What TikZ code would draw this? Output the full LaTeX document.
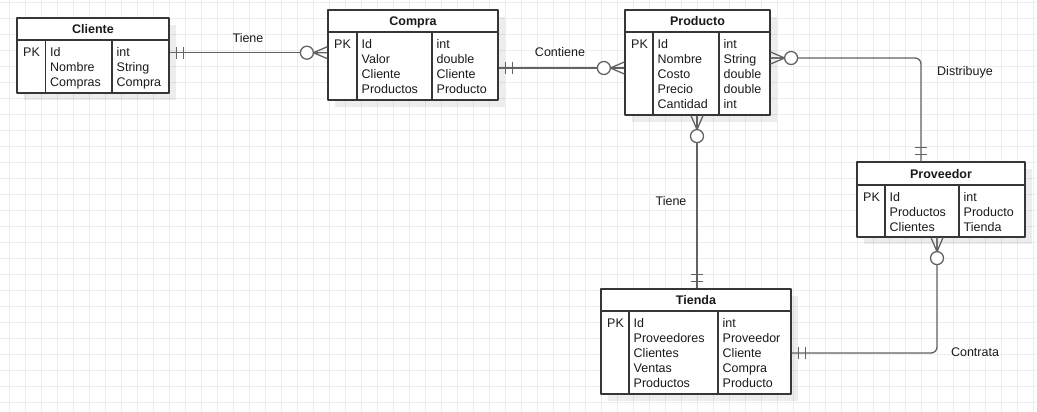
\documentclass[tikz,border=0pt]{standalone}
\usepackage{fontspec}
\setmainfont{Liberation Sans}
\definecolor{gridc}{HTML}{EDEDED}
\definecolor{boxc}{HTML}{363636}
\definecolor{linec}{HTML}{626262}
\definecolor{txtc}{HTML}{1A1A1A}
\newcommand\flds[1]{\begin{tabular}[t]{@{}l@{}}#1\end{tabular}}
% entity: name, L, T, R, B, H, D1, D2, title
\newcommand\entbox[9]{%
  \fill[black, opacity=0.07] (#2+7,#3+7) rectangle (#4+7,#5+7);
  \node[ent, minimum width={#4-#2}, minimum height={#5-#3}] (#1) at ({(#2+#4)/2},{(#3+#5)/2}) {};
  \draw[boxline] (#2,#6) -- (#4,#6);
  \draw[boxline] (#7,#6) -- (#7,#5);
  \draw[boxline] (#8,#6) -- (#8,#5);
  \node[hdr] (#1-title) at ({(#2+#4)/2},{(#3+#6)/2+4.6}) {#9};
}
\newcommand\zmany[2]{\begin{scope}[shift={#1}, rotate=#2]
  \draw[rel] (0,-6) -- (14,0) -- (0,6) (0,0) -- (14,0);
  \draw[rel, fill=white] (20.5,0) circle[radius=6.5];
\end{scope}}
\newcommand\mone[2]{\begin{scope}[shift={#1}, rotate=#2]
  \draw[rel] (7,-6) -- (7,6) (14,-6) -- (14,6);
\end{scope}}
\begin{document}
\begin{tikzpicture}[x=1pt, y=-1pt, line join=round,
  every node/.style={font=\fontsize{12.5}{15}\selectfont, text=txtc},
  ent/.style={draw=boxc, line width=1.2pt, inner sep=0pt, fill=white},
  boxline/.style={draw=boxc, line width=1.2pt},
  rel/.style={draw=linec, line width=1.3pt},
  hdr/.style={font=\fontsize{12.5}{15}\selectfont\bfseries, anchor=base, inner sep=0pt},
  fld/.style={anchor=base west, inner sep=0pt},
  lbl/.style={anchor=base, inner sep=0pt}]
\useasboundingbox (0,0) rectangle (1037,412);
\fill[white] (0,0) rectangle (1037,412);
\foreach \gx in {9,25,...,1033} \draw[gridc, line width=0.9pt] (\gx,0) -- (\gx,412);
\foreach \gy in {2,18,...,410} \draw[gridc, line width=0.9pt] (0,\gy) -- (1037,\gy);

% entities
\entbox{cliente}{17}{18}{169}{93}{40}{45.5}{112}{Cliente}
\node[fld] (cliente-pk) at (23,56.3) {PK};
\node[fld] (cliente-f) at (50,56.3) {\flds{Id\\Nombre\\Compras}};
\node[fld] (cliente-t) at (116.5,56.3) {\flds{int\\String\\Compra}};

\entbox{compra}{328}{10}{498}{100}{32}{357}{432}{Compra}
\node[fld] (compra-pk) at (334,48.3) {PK};
\node[fld] (compra-f) at (361.5,48.3) {\flds{Id\\Valor\\Cliente\\Productos}};
\node[fld] (compra-t) at (436.5,48.3) {\flds{int\\double\\Cliente\\Producto}};

\entbox{producto}{625}{10}{770}{115}{32}{653}{719}{Producto}
\node[fld] (producto-pk) at (631,48.3) {PK};
\node[fld] (producto-f) at (657.5,48.3) {\flds{Id\\Nombre\\Costo\\Precio\\Cantidad}};
\node[fld] (producto-t) at (723.5,48.3) {\flds{int\\String\\double\\double\\int}};

\entbox{proveedor}{857}{162}{1025}{237}{185}{885}{959}{Proveedor}
\node[fld] (proveedor-pk) at (863,201) {PK};
\node[fld] (proveedor-f) at (889.5,201) {\flds{Id\\Productos\\Clientes}};
\node[fld] (proveedor-t) at (963.5,201) {\flds{int\\Producto\\Tienda}};

\entbox{tienda}{601}{289}{791}{394}{311}{629}{718}{Tienda}
\node[fld] (tienda-pk) at (607,327.3) {PK};
\node[fld] (tienda-f) at (633.5,327.3) {\flds{Id\\Proveedores\\Clientes\\Ventas\\Productos}};
\node[fld] (tienda-t) at (722.5,327.3) {\flds{int\\Proveedor\\Cliente\\Compra\\Producto}};

% helper coordinates
\coordinate (y1) at (0,52.7);
\coordinate (y2) at (0,68);
\coordinate (y3) at (0,58);
\coordinate (x3) at (921,0);
\coordinate (x4) at (697,0);
\coordinate (x5) at (937,0);
\coordinate (y5) at (0,353);

% connectors
\draw[rel] (cliente.east |- y1) -- (compra.west |- y1);
\draw[rel] (compra.east |- y2) -- (producto.west |- y2);
\draw[rel, rounded corners=6pt] (producto.east |- y3) -| (proveedor.north -| x3);
\draw[rel] (producto.south -| x4) -- (tienda.north -| x4);
\draw[rel, rounded corners=6pt] (proveedor.south -| x5) |- (tienda.east |- y5);

% end markers
\mone{(cliente.east |- y1)}{0}
\zmany{(compra.west |- y1)}{180}
\mone{(compra.east |- y2)}{0}
\zmany{(producto.west |- y2)}{180}
\zmany{(producto.east |- y3)}{0}
\mone{(proveedor.north -| x3)}{90}
\zmany{(producto.south -| x4)}{-90}
\mone{(tienda.north -| x4)}{90}
\zmany{(proveedor.south -| x5)}{-90}
\mone{(tienda.east |- y5)}{0}

% labels
\node[lbl] (l-tiene1) at (248,42.3) {Tiene};
\node[lbl] (l-contiene) at (560,56.7) {Contiene};
\node[lbl] (l-distribuye) at (965,76) {Distribuye};
\node[lbl] (l-tiene2) at (671,205) {Tiene};
\node[lbl] (l-contrata) at (975,356) {Contrata};
\end{tikzpicture}
\end{document}
